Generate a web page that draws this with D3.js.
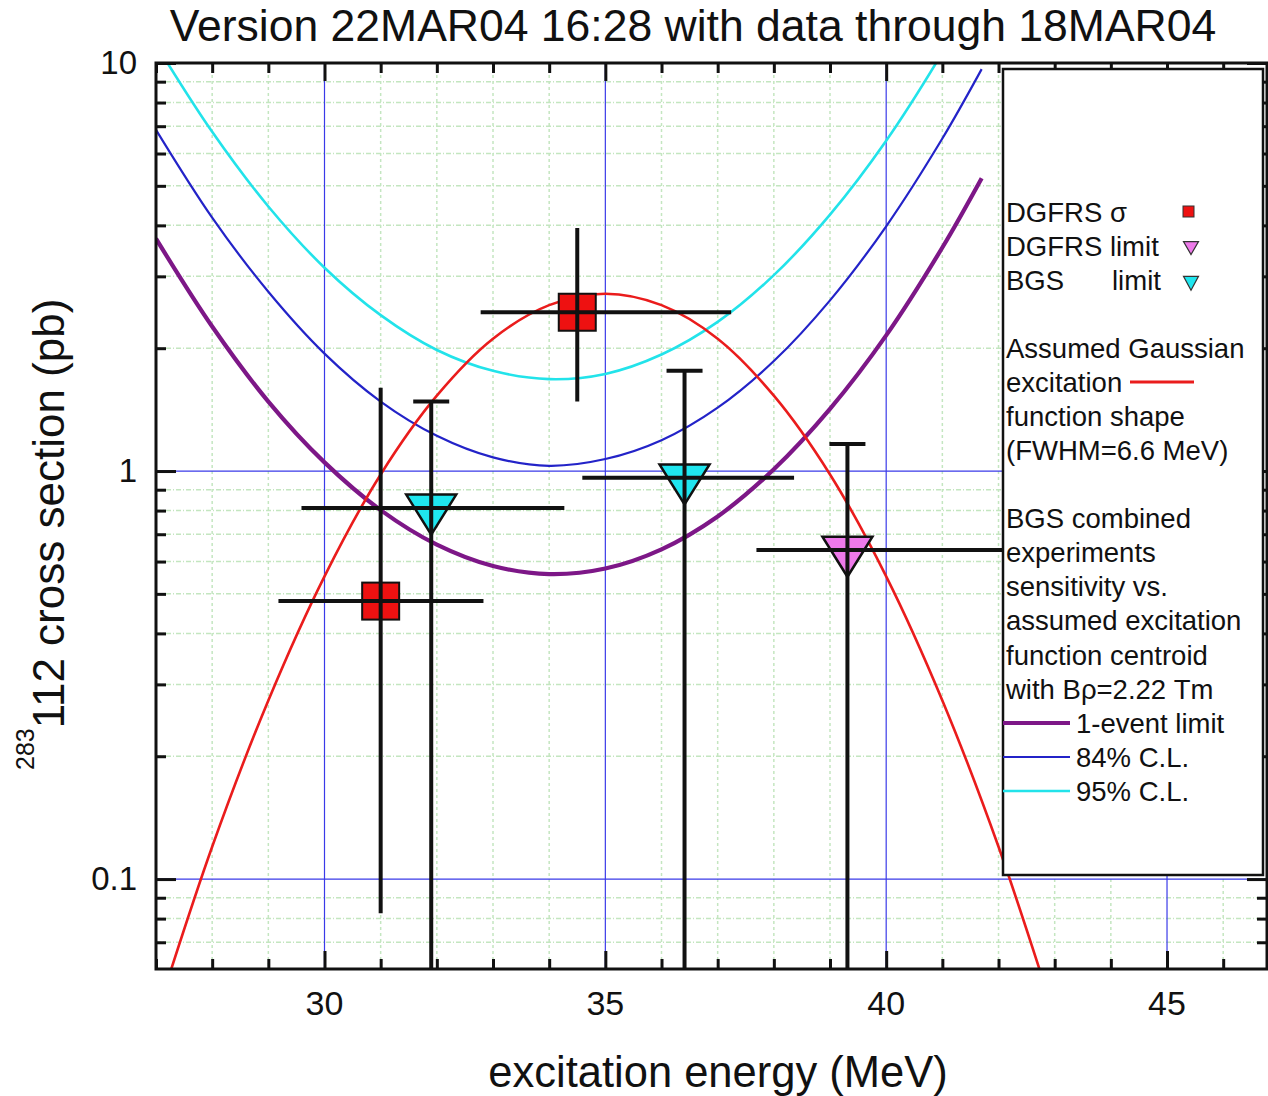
<!DOCTYPE html>
<html>
<head>
<meta charset="utf-8">
<script src="https://cdn.jsdelivr.net/npm/d3@7"></script>
<style>
  body { margin: 0; background: #fff; }
  svg { display: block; }
  text { font-family: "Liberation Sans", Arial, Helvetica, sans-serif; fill: #111; }
</style>
</head>
<body>
<svg id="chart" width="1268" height="1096"></svg>
<script>
// ---- Data -----------------------------------------------------------------
// Assumed Gaussian excitation-function shape (FWHM = 6.6 MeV), pb
const gaussEnergy = [27, 28, 29, 30, 31, 32, 33, 34, 35, 36, 37, 38, 39, 40, 41, 42, 43];
const gaussSigma  = [0.046, 0.120, 0.274, 0.552, 0.981, 1.53, 2.11, 2.55, 2.72,
                     2.55, 2.11, 1.53, 0.981, 0.552, 0.274, 0.120, 0.046];

// BGS combined-experiment sensitivity vs. assumed centroid (B-rho = 2.22 Tm), pb
const sensEnergy = [27, 28, 29, 30, 31, 32, 33, 34, 35, 36, 37, 38, 39, 40, 41, 41.7];
const oneEvent   = [3.71, 2.26, 1.48, 1.05, 0.802, 0.660, 0.585, 0.559, 0.577, 0.643, 0.774, 1.01, 1.42, 2.15, 3.53, 5.22];
const cl84       = [6.86, 4.18, 2.75, 1.94, 1.48, 1.22, 1.08, 1.03, 1.07, 1.19, 1.43, 1.86, 2.62, 3.98, 6.53, 9.66];
const cl95       = [11.1, 6.78, 4.45, 3.15, 2.41, 1.98, 1.76, 1.68, 1.73, 1.93, 2.32, 3.02, 4.25, 6.45, 10.6, 15.7];

// DGFRS measured cross sections
const dgfrsE      = [31.0, 34.5];
const dgfrsELo    = [29.18, 32.78];
const dgfrsEHi    = [32.83, 37.24];
const dgfrsSigma  = [0.48, 2.45];
const dgfrsSigLo  = [0.0825, 1.48];
const dgfrsSigHi  = [1.60, 3.94];

// DGFRS upper limit
const dgfrsLimE     = [39.31];
const dgfrsLimELo   = [37.69];
const dgfrsLimEHi   = [42.5];
const dgfrsLimSigma = [0.64];
const dgfrsLimTop   = [1.165];

// BGS upper limits
const bgsLimE     = [31.9, 36.41];
const bgsLimELo   = [29.59, 34.59];
const bgsLimEHi   = [34.27, 38.36];
const bgsLimSigma = [0.812, 0.963];
const bgsLimTop   = [1.48, 1.76];

// Axis ticks
const xMajorTicks = [30, 35, 40, 45];
const xTickLabels = ["30", "35", "40", "45"];
const yMajorTicks = [10, 1, 0.1];
const yTickLabels = ["10", "1", "0.1"];

// ---- Layout ---------------------------------------------------------------
const svg = d3.select("#chart");
const L = 156, T = 63, R = 1267, B = 969;

const x = d3.scaleLinear().domain([27, 46.78]).range([L, R]);
const y = d3.scaleLog().domain([0.0602, 10]).range([B, T]);

const xMinor = d3.range(27, 47).filter(v => !xMajorTicks.includes(v));
const yMinor = [];
[0.01, 0.1, 1].forEach(dec => { for (let k = 2; k <= 9; k++) { const v = dec * k; if (v >= 0.0602 && v < 10) yMinor.push(v); } });

const COL = {
  red: "#ea1c1c", purple: "#7d1787", blue: "#2323c8", cyan: "#22e3ea",
  gridMajor: "#3a3ae8", gridMinor: "#c4e6c0"
};

svg.append("defs").append("clipPath").attr("id", "plotClip")
  .append("rect").attr("x", L).attr("y", T).attr("width", R - L).attr("height", B - T);

// ---- Grid -----------------------------------------------------------------
const grid = svg.append("g");
grid.selectAll(".vmin").data(xMinor).join("line")
  .attr("x1", d => x(d)).attr("x2", d => x(d)).attr("y1", T).attr("y2", B)
  .attr("stroke", COL.gridMinor).attr("stroke-width", 1.5).attr("stroke-dasharray", "3,3");
grid.selectAll(".hmin").data(yMinor).join("line")
  .attr("x1", L).attr("x2", R).attr("y1", d => y(d)).attr("y2", d => y(d))
  .attr("stroke", COL.gridMinor).attr("stroke-width", 1.5).attr("stroke-dasharray", "5,2,1,2");
grid.selectAll(".vmaj").data(xMajorTicks).join("line")
  .attr("x1", d => x(d)).attr("x2", d => x(d)).attr("y1", T).attr("y2", B)
  .attr("stroke", COL.gridMajor).attr("stroke-width", 1.2);
grid.selectAll(".hmaj").data([1, 0.1]).join("line")
  .attr("x1", L).attr("x2", R).attr("y1", d => y(d)).attr("y2", d => y(d))
  .attr("stroke", COL.gridMajor).attr("stroke-width", 1.2);

// ---- Curves ---------------------------------------------------------------
const curves = svg.append("g").attr("clip-path", "url(#plotClip)");
const line = d3.line().x(d => x(d[0])).y(d => y(d[1])).curve(d3.curveCatmullRom.alpha(0.5));
const pair = (xs, ys) => xs.map((v, i) => [v, ys[i]]);

curves.append("path").attr("d", line(pair(sensEnergy, cl95)))
  .attr("fill", "none").attr("stroke", COL.cyan).attr("stroke-width", 2.6);
curves.append("path").attr("d", line(pair(sensEnergy, cl84)))
  .attr("fill", "none").attr("stroke", COL.blue).attr("stroke-width", 2.2);
curves.append("path").attr("d", line(pair(sensEnergy, oneEvent)))
  .attr("fill", "none").attr("stroke", COL.purple).attr("stroke-width", 4.2);
curves.append("path").attr("d", line(pair(gaussEnergy, gaussSigma)))
  .attr("fill", "none").attr("stroke", COL.red).attr("stroke-width", 2.6);

// ---- Markers ----------------------------------------------------------------
const marks = svg.append("g").attr("clip-path", "url(#plotClip)");
const tri = (cx, cy, w, h) => {
  // downward triangle with its centroid at (cx, cy)
  const top = cy - h / 3, bot = cy + 2 * h / 3;
  return `M${cx - w / 2},${top}L${cx + w / 2},${top}L${cx},${bot}Z`;
};

marks.selectAll(".sq").data(dgfrsE).join("rect")
  .attr("x", (d, i) => x(d) - 18.5).attr("y", (d, i) => y(dgfrsSigma[i]) - 18.5)
  .attr("width", 37).attr("height", 37)
  .attr("fill", "#ee1111").attr("stroke", "#111").attr("stroke-width", 2);

marks.selectAll(".bgsTri").data(bgsLimE).join("path")
  .attr("d", (d, i) => tri(x(d), y(bgsLimSigma[i]), 50, 40))
  .attr("fill", "#1fe6ef").attr("stroke", "#111").attr("stroke-width", 2.5);

marks.selectAll(".dgTri").data(dgfrsLimE).join("path")
  .attr("d", (d, i) => tri(x(d), y(dgfrsLimSigma[i]), 50, 40))
  .attr("fill", "#ee7aea").attr("stroke", "#111").attr("stroke-width", 2.5);

// ---- Error bars -----------------------------------------------------------
const bars = svg.append("g").attr("clip-path", "url(#plotClip)")
  .attr("stroke", "#111").attr("stroke-width", 4).attr("fill", "none");
const hbar = (e0, e1, s) => bars.append("line").attr("x1", x(e0)).attr("x2", x(e1)).attr("y1", y(s)).attr("y2", y(s));
const vbar = (e, s0, s1) => bars.append("line").attr("x1", x(e)).attr("x2", x(e)).attr("y1", y(s0)).attr("y2", s1 === null ? B : y(s1));
const cap = (e, s) => bars.append("line").attr("x1", x(e) - 18).attr("x2", x(e) + 18).attr("y1", y(s)).attr("y2", y(s));

dgfrsE.forEach((e, i) => {
  hbar(dgfrsELo[i], dgfrsEHi[i], dgfrsSigma[i]);
  vbar(e, dgfrsSigHi[i], dgfrsSigLo[i]);
});
bgsLimE.forEach((e, i) => {
  hbar(bgsLimELo[i], bgsLimEHi[i], bgsLimSigma[i]);
  vbar(e, bgsLimTop[i], null);
  cap(e, bgsLimTop[i]);
});
dgfrsLimE.forEach((e, i) => {
  hbar(dgfrsLimELo[i], dgfrsLimEHi[i], dgfrsLimSigma[i]);
  vbar(e, dgfrsLimTop[i], null);
  cap(e, dgfrsLimTop[i]);
});

// ---- Axes -----------------------------------------------------------------
const axes = svg.append("g");
function styleAxis(g) {
  g.select(".domain").remove();
  g.selectAll(".tick line").attr("stroke", "#111").attr("stroke-width", 3);
  g.selectAll(".tick text").remove();
}
// bottom
axes.append("g").attr("transform", `translate(0,${B})`)
  .call(d3.axisBottom(x).tickValues(xMinor).tickSize(-10)).call(styleAxis);
axes.append("g").attr("transform", `translate(0,${B})`)
  .call(d3.axisBottom(x).tickValues(xMajorTicks).tickSize(-18)).call(styleAxis);
// top
axes.append("g").attr("transform", `translate(0,${T})`)
  .call(d3.axisTop(x).tickValues(xMinor).tickSize(-10)).call(styleAxis);
axes.append("g").attr("transform", `translate(0,${T})`)
  .call(d3.axisTop(x).tickValues(xMajorTicks).tickSize(-18)).call(styleAxis);
// left
axes.append("g").attr("transform", `translate(${L},0)`)
  .call(d3.axisLeft(y).tickValues(yMinor).tickSize(-10)).call(styleAxis);
axes.append("g").attr("transform", `translate(${L},0)`)
  .call(d3.axisLeft(y).tickValues(yMajorTicks).tickSize(-20)).call(styleAxis);
// right
axes.append("g").attr("transform", `translate(${R},0)`)
  .call(d3.axisRight(y).tickValues(yMinor).tickSize(-10)).call(styleAxis);
axes.append("g").attr("transform", `translate(${R},0)`)
  .call(d3.axisRight(y).tickValues(yMajorTicks).tickSize(-20)).call(styleAxis);

axes.append("rect").attr("x", L).attr("y", T).attr("width", R - L).attr("height", B - T)
  .attr("fill", "none").attr("stroke", "#111").attr("stroke-width", 3);

// tick labels
axes.selectAll(".xl").data(xMajorTicks).join("text")
  .attr("x", d => x(d)).attr("y", 1015).attr("text-anchor", "middle")
  .attr("font-size", 34).text((d, i) => xTickLabels[i]);
axes.selectAll(".yl").data(yMajorTicks).join("text")
  .attr("x", 137).attr("y", d => y(d) + 11).attr("text-anchor", "end")
  .attr("font-size", 33).text((d, i) => yTickLabels[i]);

// ---- Titles ---------------------------------------------------------------
svg.append("text").attr("x", 693).attr("y", 41).attr("text-anchor", "middle")
  .attr("font-size", 44.5).text("Version 22MAR04 16:28 with data through 18MAR04");

svg.append("text").attr("x", 718).attr("y", 1087).attr("text-anchor", "middle")
  .attr("font-size", 43.5).text("excitation energy (MeV)");

const yl = svg.append("text").attr("transform", "translate(64,770) rotate(-90)");
yl.append("tspan").attr("font-size", 25).attr("dy", -30).text("283");
yl.append("tspan").attr("font-size", 44).attr("dy", 30).text("112 cross section (pb)");

// ---- Legend ---------------------------------------------------------------
const lg = svg.append("g");
lg.append("rect").attr("x", 1003).attr("y", 69).attr("width", 260).attr("height", 806)
  .attr("fill", "#fff").attr("stroke", "#111").attr("stroke-width", 2.5);

const LX = 1006, FS = 27.5;
const legendText = (txt, cy, xx) => lg.append("text").attr("x", xx || LX).attr("y", cy + 10)
  .attr("font-size", FS).text(txt);

legendText("DGFRS \u03c3", 212);
lg.append("rect").attr("x", 1183).attr("y", 206).attr("width", 11).attr("height", 11)
  .attr("fill", "#ee1111").attr("stroke", "#333").attr("stroke-width", 1);

legendText("DGFRS limit", 246);
lg.append("path").attr("d", tri(1191, 246, 15, 13)).attr("fill", "#ee7aea").attr("stroke", "#333").attr("stroke-width", 1.2);

legendText("BGS", 280);
legendText("limit", 280, 1112);
lg.append("path").attr("d", tri(1191, 281, 15, 14)).attr("fill", "#1fe6ef").attr("stroke", "#333").attr("stroke-width", 1.2);

legendText("Assumed Gaussian", 348);
legendText("excitation", 382);
lg.append("line").attr("x1", 1130).attr("x2", 1194).attr("y1", 382).attr("y2", 382)
  .attr("stroke", COL.red).attr("stroke-width", 3);
legendText("function shape", 416);
legendText("(FWHM=6.6 MeV)", 450);

legendText("BGS combined", 518);
legendText("experiments", 552);
legendText("sensitivity vs.", 586);
legendText("assumed excitation", 620);
legendText("function centroid", 655);
legendText("with B\u03c1=2.22 Tm", 689);

[[COL.purple, 4.2, "1-event limit", 723], [COL.blue, 2.2, "84% C.L.", 757], [COL.cyan, 2.6, "95% C.L.", 791]]
  .forEach(([c, w, t, cy]) => {
    lg.append("line").attr("x1", 1003).attr("x2", 1070).attr("y1", cy).attr("y2", cy)
      .attr("stroke", c).attr("stroke-width", w);
    legendText(t, cy, 1076);
  });
</script>
</body>
</html>
